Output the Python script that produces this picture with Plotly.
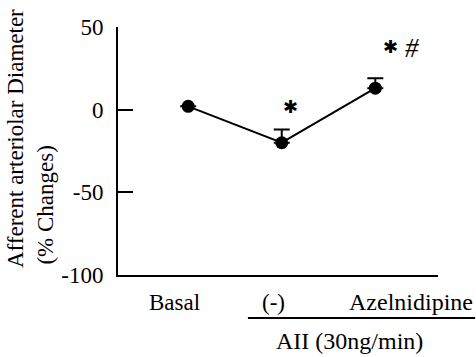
import plotly.graph_objects as go

categories = ["Basal", "(-)", "Azelnidipine"]
mean_change = [2, -20, 13]
sem_upper = [float("nan"), 8, 6]
y_ticks = [50, 0, -50, -100]
y_tick_labels = ["50", "0", "-50", "-100"]
group_label = "AII (30ng/min)"

serif = "Liberation Serif, Times New Roman, serif"
xpos = list(range(len(categories)))

fig = go.Figure()
fig.add_trace(go.Scatter(
    x=xpos, y=mean_change, mode="lines+markers",
    line=dict(color="black", width=2),
    marker=dict(color="black", size=13),
    error_y=dict(type="data", symmetric=False, array=sem_upper,
                 arrayminus=[0, 0, 0], color="black", thickness=2, width=8),
    showlegend=False, cliponaxis=False,
))

fig.update_layout(
    width=476, height=357,
    margin=dict(l=118, r=38, t=27, b=82),
    paper_bgcolor="white", plot_bgcolor="white",
    font=dict(family=serif, size=23, color="black"),
    xaxis=dict(range=[-0.75, 2.67], showgrid=False, zeroline=False,
               showline=True, linecolor="black", linewidth=2,
               showticklabels=False, ticks=""),
    yaxis=dict(range=[-100, 50], showgrid=False, zeroline=False,
               showline=True, linecolor="black", linewidth=2,
               tickvals=y_ticks, ticktext=y_tick_labels,
               ticks="inside", ticklen=15, tickwidth=2, tickcolor="black",
               ticklabelstandoff=8,
               tickfont=dict(family=serif, size=23)),
)

# category labels
label_shift = [-14, -8, 36]
label_size = [23, 23, 24]
for i, (c, s, fs) in enumerate(zip(categories, label_shift, label_size)):
    fig.add_annotation(x=xpos[i], y=-0.109, xref="x", yref="paper", text=c,
                       showarrow=False, xshift=s, xanchor="center", yanchor="middle",
                       font=dict(family=serif, size=fs))

# group line and label
fig.add_shape(type="line", xref="paper", yref="paper", x0=0.406, x1=1.116,
              y0=-0.173, y1=-0.173, line=dict(color="black", width=2))
fig.add_annotation(x=0.722, y=-0.266, xref="paper", yref="paper", text=group_label,
                   showarrow=False, xanchor="center", yanchor="middle",
                   font=dict(family=serif, size=24))

# significance markers
fig.add_annotation(x=1, y=2, xref="x", yref="y", text="✱", showarrow=False,
                   xshift=9, font=dict(family="DejaVu Sans", size=18))
fig.add_annotation(x=2, y=38, xref="x", yref="y", text="✱", showarrow=False,
                   xshift=15, font=dict(family="DejaVu Sans", size=18))
fig.add_annotation(x=2, y=37, xref="x", yref="y", text="<i>#</i>", showarrow=False,
                   xshift=37, font=dict(family=serif, size=27))

# y-axis title (two lines)
fig.add_annotation(x=-0.322, y=0.552, xref="paper", yref="paper",
                   text="Afferent arteriolar Diameter", textangle=-90,
                   xanchor="center", yanchor="middle",
                   showarrow=False, font=dict(family=serif, size=23))
fig.add_annotation(x=-0.225, y=0.28, xref="paper", yref="paper",
                   text="(% Changes)", textangle=-90,
                   xanchor="center", yanchor="middle",
                   showarrow=False, font=dict(family=serif, size=23))

fig.write_html("out.html", config={"displayModeBar": False},
               post_script="document.body.style.margin='0';document.body.style.padding='0';")
